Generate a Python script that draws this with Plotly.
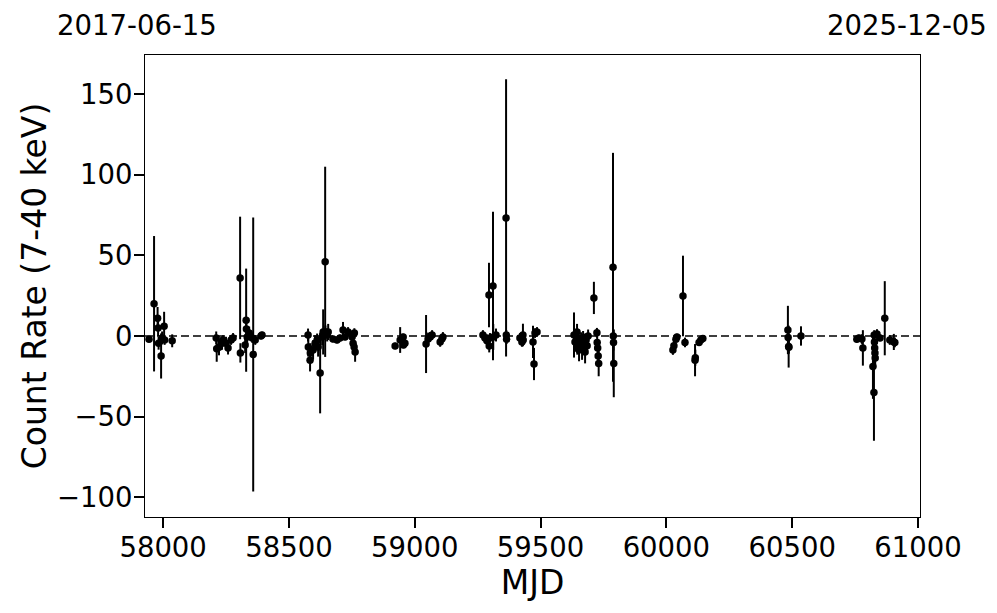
import plotly.graph_objects as go

mjd = [57944, 57964, 57978, 57980, 57982, 57992, 57996, 58004, 58006, 58036,
       58211, 58213, 58222, 58234, 58238, 58250, 58258, 58270, 58278,
       58306, 58307, 58326, 58330, 58331, 58334, 58342, 58354, 58358, 58366, 58389, 58393,
       58576, 58577, 58584, 58585, 58596, 58604, 58612, 58616, 58624, 58632, 58636, 58644,
       58645, 58652, 58656, 58675, 58691, 58703, 58715, 58723, 58735, 58751, 58755, 58759,
       58760, 58763,
       58922, 58942, 58954, 58955, 58961,
       59045, 59053, 59061, 59069,
       59101, 59108, 59112,
       59271, 59279, 59287, 59295, 59296, 59299, 59311, 59312, 59323, 59363, 59364, 59365,
       59418, 59426, 59430, 59431,
       59470, 59474, 59478, 59486,
       59633, 59637, 59645, 59646, 59649, 59653, 59661, 59665, 59669, 59673, 59677, 59681,
       59685, 59689, 59712, 59724, 59725, 59727, 59729, 59731, 59788, 59789, 59790, 59791,
       60026, 60030, 60038, 60042, 60066, 60074, 60114, 60115, 60130, 60137, 60145,
       60483, 60484, 60486, 60487, 60535,
       60757, 60765, 60777, 60781, 60821, 60825, 60826, 60827, 60828, 60829, 60830, 60837,
       60849, 60868, 60888, 60904, 60908]

rate = [-2.0, 20.0, 11.0, 5.0, -4.5, -12.4, -1.2, 6.0, -2.5, -3.0,
        -1.2, -8.0, -7.0, -4.5, -2.5, -4.5, -7.5, -2.5, -1.2,
        36.0, -10.5, -5.6, 9.8, 4.3, -0.6, 1.8, -1.2, -11.5, -2.5, 0.0, 0.6,
        0.6, -6.8, -15.0, -10.5, -8.7, -4.5, -2.5, -6.8, -23.0, -0.6, 2.5, 46.0,
        2.5, 0.6, 2.5, -1.9, -2.5, -1.2, 3.7, -0.6, 2.5, -0.6, -4.5, -6.8,
        1.8, -10.0,
        -6.2, -2.5, -0.6, -5.6, -4.5,
        -5.0, -1.9, -0.6, 0.6,
        -3.7, -1.9, -0.6,
        0.6, -1.2, -3.0, 25.4, -6.2, -1.2, 31.0, -0.6, 0.6, 73.2, 0.6, -2.0,
        -1.2, -3.7, 0.6, -2.5,
        -3.7, -17.4, 1.8, 2.5,
        0.6, -3.7, 2.5, -5.6, -1.2, -8.7, -3.7, -6.8, -1.9, -4.5, -10.0, -2.5,
        -6.0, 0.0, 23.6, 2.0, -4.0, -7.5, -12.5, -17.0, 42.6, 0.0, -4.0, -17.0,
        -8.7, -6.0, -2.0, -0.6, 24.8, -4.0, -15.0, -13.5, -4.0, -2.5, -1.5,
        3.7, -1.0, -6.6, -7.0, 0.0,
        -2.0, -1.2, -1.9, -7.4, -19.0, -35.0, 0.6, -3.7, -7.4, -10.5, -13.6, 1.2,
        -1.2, 11.0, -2.5, -3.7, -4.0]

rate_err = [1.5, 42, 7, 5, 4, 14, 4, 9, 3, 4,
            4, 8, 5, 4, 3, 4, 4, 3, 3,
            38, 6, 5, 32, 5, 4, 4, 3, 85, 3, 2, 2,
            4, 6, 7, 6, 6, 5, 4, 6, 25, 5, 14, 59,
            4, 4, 5, 2, 2, 2, 5, 2, 3, 3, 4, 4,
            3, 6,
            2, 8, 2, 2, 3,
            18, 4, 3, 3,
            3, 2, 3,
            3, 3, 4, 20, 4, 3, 46, 8, 4, 86, 3, 3,
            3, 3, 7, 3,
            10, 10, 3, 3,
            14, 6, 5, 6, 5, 7, 6, 8, 5, 6, 7, 4,
            5, 4, 10, 3, 4, 5, 6, 8, 71, 4, 5, 21,
            3, 3, 2, 2, 25, 3, 10, 5, 2, 2, 2,
            15, 4, 13, 4, 6,
            2, 2, 3, 11, 20, 30, 3, 4, 5, 5, 6, 3,
            2, 23, 3, 5, 3]

x_ticks = [58000, 58500, 59000, 59500, 60000, 60500, 61000]
y_ticks = [-100, -50, 0, 50, 100, 150]
start_label = "2017-06-15"
end_label = "2025-12-05"

FONT = "DejaVu Sans"

fig = go.Figure()
fig.add_trace(go.Scatter(
    x=mjd, y=rate, mode="markers",
    marker=dict(color="black", size=7.5),
    error_y=dict(type="data", array=rate_err, visible=True,
                 color="black", thickness=2, width=0),
    showlegend=False,
))

fig.add_shape(type="line", xref="paper", yref="y", x0=0, x1=1, y0=0, y1=0,
              line=dict(color="black", width=1.5, dash="8px,4px"), layer="below")

for label, cx in [(start_label, 137), (end_label, 907)]:
    fig.add_annotation(text=label, xref="paper", yref="paper",
                       x=(cx - 145) / 775, y=1 + (55 - 25) / 462,
                       xanchor="center", yanchor="middle", showarrow=False,
                       borderpad=0,
                       font=dict(family=FONT, size=27.5, color="black"))

fig.update_xaxes(range=[57928, 61008], tickvals=x_ticks,
                 ticktext=[str(v) for v in x_ticks],
                 ticks="outside", ticklen=10, tickwidth=2, tickcolor="black",
                 ticklabelstandoff=-4,
                 showgrid=False, zeroline=False, automargin=False,
                 showline=True, linecolor="black", linewidth=1, mirror=True,
                 tickfont=dict(family=FONT, size=27.5, color="black"),
                 title=dict(text="MJD", font=dict(family=FONT, size=33, color="black"),
                            standoff=7))
fig.update_yaxes(range=[-112.3, 174.3], tickvals=y_ticks,
                 ticktext=[("\u2212" + str(abs(v))) if v < 0 else str(v) for v in y_ticks],
                 ticks="outside", ticklen=10, tickwidth=2, tickcolor="black",
                 ticklabelstandoff=-4,
                 showgrid=False, zeroline=False, automargin=False,
                 showline=True, linecolor="black", linewidth=1, mirror=True,
                 tickfont=dict(family=FONT, size=27.5, color="black"),
                 title=dict(text="Count Rate (7-40 keV)",
                            font=dict(family=FONT, size=33, color="black"),
                            standoff=0))

# page body adds an 8px offset, so the figure is sized to fit the 997x613 window
fig.update_layout(width=989, height=605, autosize=False,
                  margin=dict(l=137, r=77, t=47, b=96, autoexpand=False),
                  paper_bgcolor="white", plot_bgcolor="white",
                  font=dict(family=FONT, color="black"))

fig.write_html("out.html")
